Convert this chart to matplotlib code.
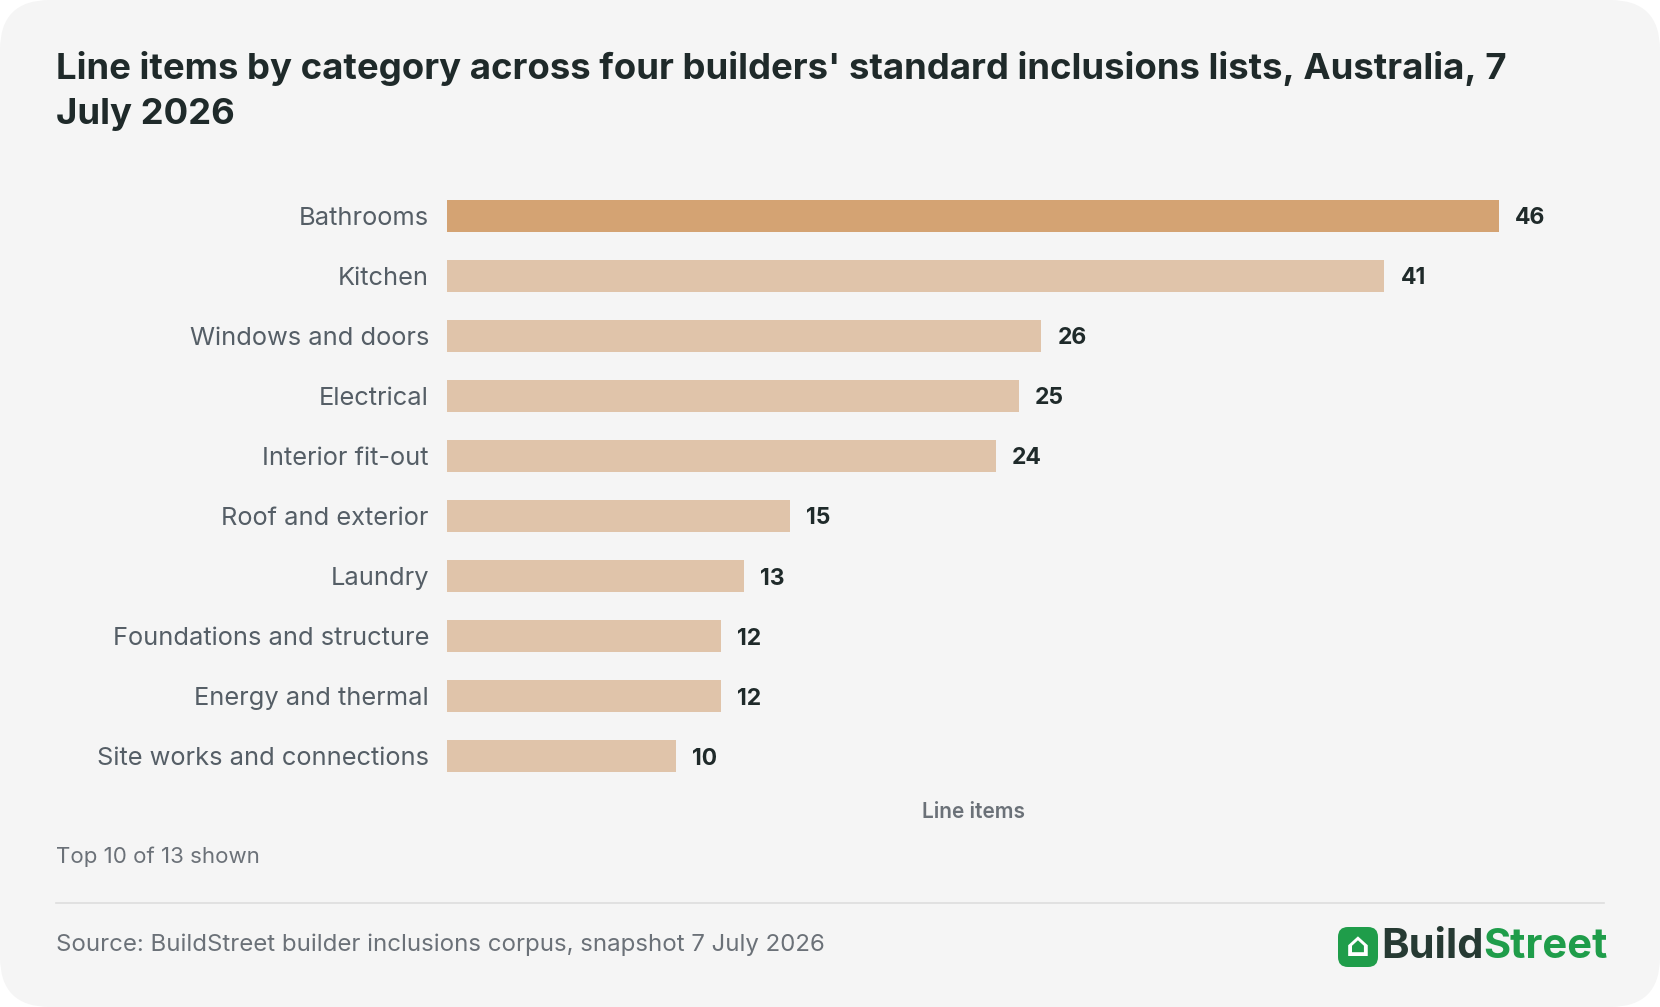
import matplotlib.pyplot as plt
from matplotlib.patches import FancyBboxPatch

plt.rcParams['font.family'] = ['Inter', 'DejaVu Sans']

categories = ['Bathrooms', 'Kitchen', 'Windows and doors', 'Electrical', 'Interior fit-out',
              'Roof and exterior', 'Laundry', 'Foundations and structure', 'Energy and thermal',
              'Site works and connections']
counts = [46, 41, 26, 25, 24, 15, 13, 12, 12, 10]

W, H = 1660, 1007
fig = plt.figure(figsize=(W / 100, H / 100), dpi=100)
fig.patch.set_facecolor('white')
card = FancyBboxPatch((0, 0), 1, 1, boxstyle='round,pad=0,rounding_size=0.03',
                      transform=fig.transFigure, facecolor='#f5f5f5', edgecolor='none',
                      mutation_aspect=W / H, zorder=-10)
fig.patches.append(card)

ax = fig.add_axes([447 / W, 1 - 798 / H, (1501 - 447) / W, (798 - 174) / H])
ax.set_facecolor('none')
y = list(range(len(categories)))
colors = ['#d4a373'] + ['#e0c4aa'] * (len(categories) - 1)
ax.barh(y, counts, height=0.53, color=colors)
for yi, v in zip(y, counts):
    ax.text(v + 0.7, yi, str(v), va='center_baseline', ha='left', fontsize=16.5, fontweight='bold',
            color='#1f2a2a', clip_on=False)
ax.set_yticks(y)
ax.set_yticklabels(categories, fontsize=18.3, color='#555e66')
ax.tick_params(axis='y', length=0, pad=13)
ax.set_xticks([])
ax.set_xlim(0, 46.1)
ax.set_ylim(len(categories) - 0.3, -0.7)
for s in ax.spines.values():
    s.set_visible(False)
ax.set_xlabel('Line items', fontsize=15, color='#6b7178', fontweight='semibold', labelpad=3)

fig.text(56 / W, 1 - 51 / H, "Line items by category across four builders' standard inclusions lists, Australia, 7\nJuly 2026",
         fontsize=26.3, fontweight='bold', color='#1f2a2a', va='top', linespacing=1.45)
fig.text(56 / W, 1 - 857 / H, 'Top 10 of 13 shown', fontsize=16, color='#6b7178', va='center')
fig.add_artist(plt.Line2D([56 / W, 1604 / W], [1 - 903 / H, 1 - 903 / H], color='#dddddd', lw=1.2))
fig.text(56 / W, 1 - 945 / H, 'Source: BuildStreet builder inclusions corpus, snapshot 7 July 2026',
         fontsize=17.3, color='#6b7178', va='center')

# logo
icon = FancyBboxPatch((1338 / W, 1 - 967 / H), 40 / W, 40 / H,
                      boxstyle='round,pad=0,rounding_size=0.006', transform=fig.transFigure,
                      facecolor='#1f9d4a', edgecolor='none', mutation_aspect=W / H)
fig.patches.append(icon)
fig.text(1358 / W, 1 - 947 / H, '⌂', fontsize=24, color='white', ha='center', va='center',
         fontweight='bold', family=['DejaVu Sans'])
t1 = fig.text(1381 / W, 1 - 947 / H, 'Build', fontsize=30, fontweight='bold', color='#263a33', va='center')
fig.canvas.draw()
bb = t1.get_window_extent()
fig.text(bb.x1 / W, 1 - 947 / H, 'Street', fontsize=30, fontweight='bold', color='#1f9d4a', va='center')

fig.savefig('out.png', dpi=100, facecolor=fig.get_facecolor())
